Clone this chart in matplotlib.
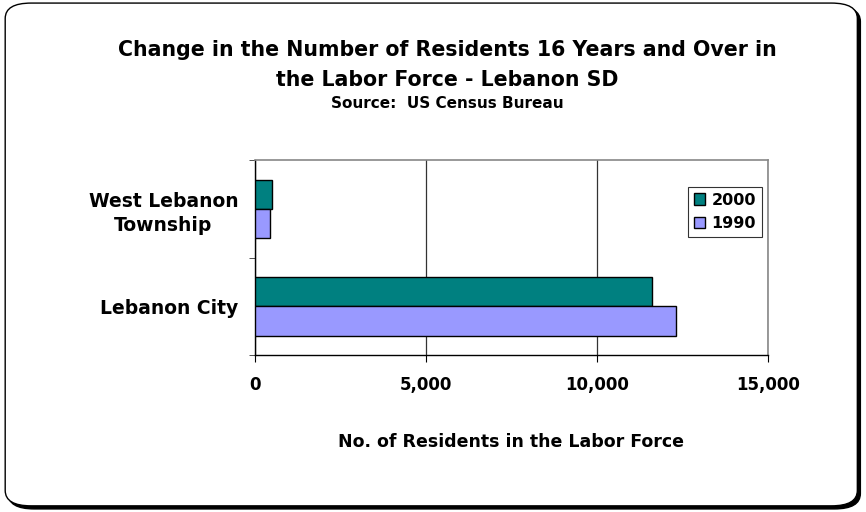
import numpy as np
import matplotlib.pyplot as plt
from matplotlib.patches import FancyBboxPatch

categories = ['Lebanon City', 'West Lebanon\nTownship']
values_2000 = [11600, 500]
values_1990 = [12300, 440]
series_labels = ['2000', '1990']
x_ticks = [0, 5000, 10000, 15000]

color_2000 = '#008080'
color_1990 = '#9999FF'

plt.rcParams['font.family'] = 'DejaVu Sans'
plt.rcParams['font.weight'] = 'bold'

fig = plt.figure(figsize=(8.66, 5.12), dpi=100)

# rounded frame with a thin drop shadow
shadow = FancyBboxPatch((0.0095, 0.006), 0.984, 0.982, boxstyle='round,pad=0,rounding_size=0.03',
                        transform=fig.transFigure, facecolor='black', edgecolor='black', zorder=0)
frame = FancyBboxPatch((0.006, 0.012), 0.984, 0.982, boxstyle='round,pad=0,rounding_size=0.03',
                       transform=fig.transFigure, facecolor='white', edgecolor='black',
                       linewidth=1.0, zorder=1)
fig.patches.extend([shadow, frame])

ax = fig.add_axes([0.2945, 0.3066, 0.5922, 0.3809])
ax.set_zorder(2)

y = np.arange(len(categories))
h = 0.3
ax.barh(y + h / 2, values_2000, height=h, color=color_2000, edgecolor='black',
        linewidth=1.0, label=series_labels[0], zorder=3)
ax.barh(y - h / 2, values_1990, height=h, color=color_1990, edgecolor='black',
        linewidth=1.0, label=series_labels[1], zorder=3)

ax.set_xlim(0, 15000)
ax.set_ylim(-0.5, 1.5)
ax.set_xticks(x_ticks)
ax.set_xticklabels([f'{v:,}' for v in x_ticks], fontsize=12, fontweight='bold')
ax.set_yticks(y)
ax.set_yticklabels(categories, fontsize=13.5, fontweight='bold', ha='right',
                   multialignment='center', linespacing=1.35)
ax.tick_params(axis='y', length=0, pad=12)
ax.set_yticks([-0.5, 0.5, 1.5], minor=True)
ax.tick_params(axis='y', which='minor', length=4, color='#333333', direction='out')
ax.tick_params(axis='x', length=5, direction='out', pad=10)

ax.grid(axis='x', color='#333333', linewidth=0.9, zorder=1)
ax.set_axisbelow(True)

for side in ['top', 'right']:
    ax.spines[side].set_color('#888888')
    ax.spines[side].set_linewidth(1.2)
for side in ['left', 'bottom']:
    ax.spines[side].set_color('black')
    ax.spines[side].set_linewidth(1.0)

ax.set_xlabel('No. of Residents in the Labor Force', fontsize=12.5, fontweight='bold', labelpad=28)

leg = ax.legend(loc='upper right', bbox_to_anchor=(0.988, 0.862), fontsize=11.5, frameon=True,
                fancybox=False, edgecolor='black', handlelength=0.7, handleheight=0.7,
                handletextpad=0.4, borderpad=0.35, labelspacing=0.55, borderaxespad=0)
leg.get_frame().set_linewidth(0.8)
for t in leg.get_texts():
    t.set_fontweight('bold')

fig.text(0.517, 0.902, 'Change in the Number of Residents 16 Years and Over in',
         ha='center', va='center', fontsize=14.8, fontweight='bold')
fig.text(0.517, 0.843, 'the Labor Force - Lebanon SD',
         ha='center', va='center', fontsize=14.8, fontweight='bold')
fig.text(0.517, 0.797, 'Source:  US Census Bureau',
         ha='center', va='center', fontsize=11, fontweight='bold')

fig.savefig('out.png', dpi=100)
